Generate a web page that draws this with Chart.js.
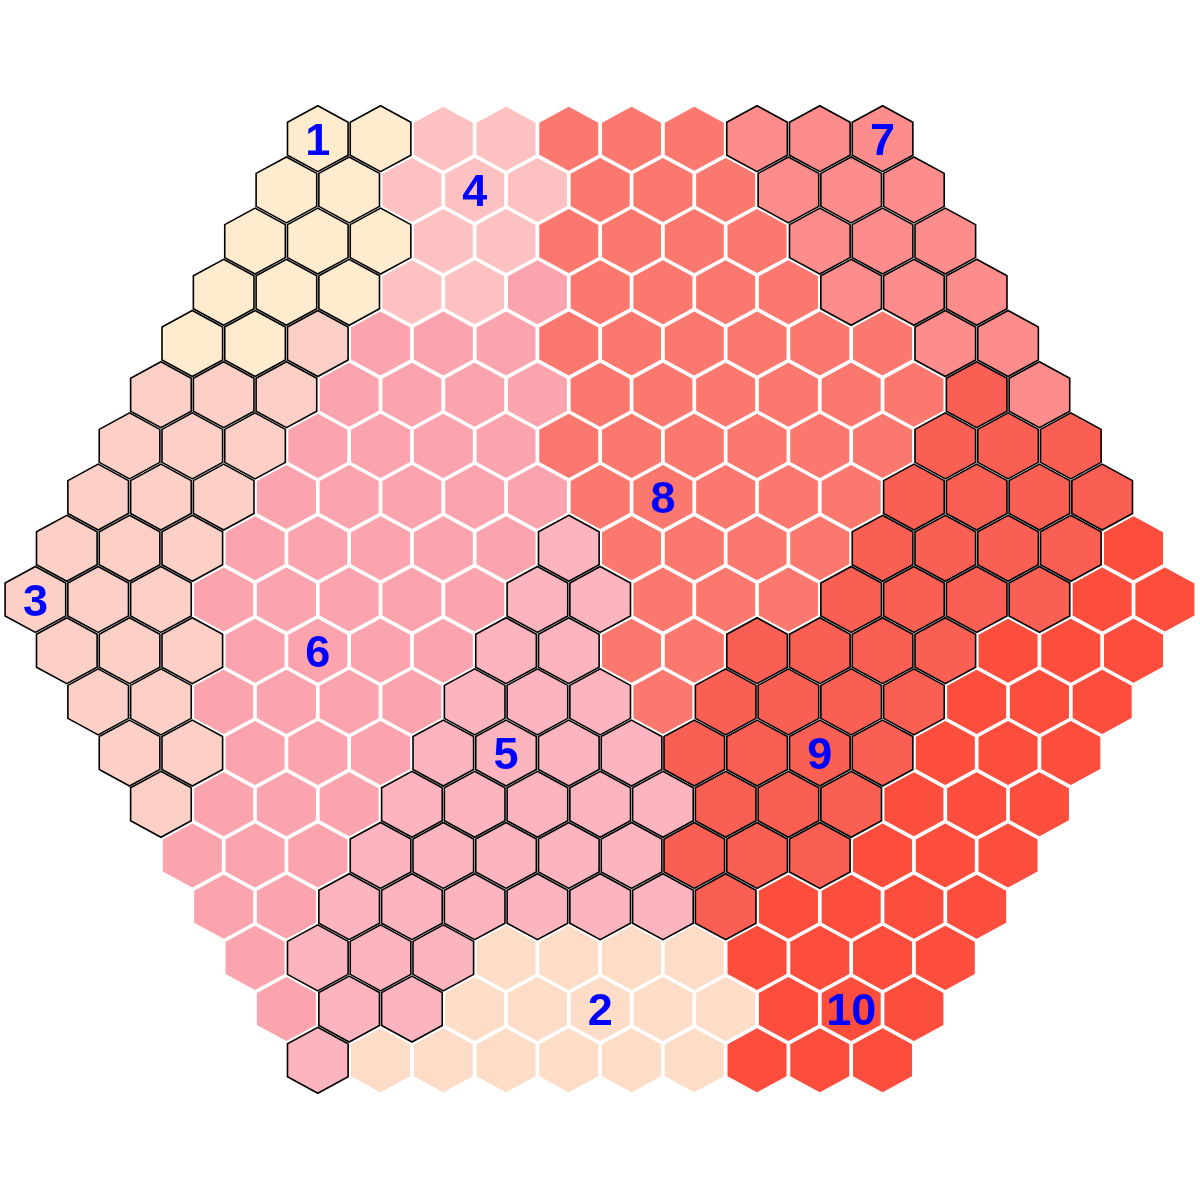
<!DOCTYPE html>
<html>
<head>
<meta charset="utf-8">
<script src="https://cdn.jsdelivr.net/npm/chart.js@4.4.0/dist/chart.umd.min.js"></script>
<style>
html,body{margin:0;padding:0;background:#ffffff;}
#wrap{width:1200px;height:1200px;position:relative;}
</style>
</head>
<body>
<div id="wrap"><canvas id="c"></canvas></div>
<script>
// ---- DATA ----
const clusterIds = [1, 2, 3, 4, 5, 6, 7, 8, 9, 10];
const clusterColors = ['#FFEBCD', '#FDDCC8', '#FCD0C6', '#FEC1C1', '#FCB5BF',
                       '#FCA4AE', '#FD8C8C', '#FB786F', '#FA5F54', '#FD4D3C'];
const clusterBorders = ['#000000', '#FFFFFF', '#000000', '#FFFFFF', '#000000',
                        '#FFFFFF', '#000000', '#FFFFFF', '#000000', '#FFFFFF'];
// cluster of every cell, row by row (top row first), hexagonal map of side 10
const gridRows = [
  [1,1,4,4,8,8,8,7,7,7],
  [1,1,4,4,4,8,8,8,7,7,7],
  [1,1,1,4,4,8,8,8,8,7,7,7],
  [1,1,1,4,4,6,8,8,8,8,7,7,7],
  [1,1,3,6,6,6,8,8,8,8,8,8,7,7],
  [3,3,3,6,6,6,6,8,8,8,8,8,8,9,7],
  [3,3,3,6,6,6,6,8,8,8,8,8,8,9,9,9],
  [3,3,3,6,6,6,6,6,8,8,8,8,8,9,9,9,9],
  [3,3,3,6,6,6,6,6,5,8,8,8,8,9,9,9,9,10],
  [3,3,3,6,6,6,6,6,5,5,8,8,8,9,9,9,9,10,10],
  [3,3,3,6,6,6,6,5,5,8,8,9,9,9,9,10,10,10],
  [3,3,6,6,6,6,5,5,5,8,9,9,9,9,10,10,10],
  [3,3,6,6,6,5,5,5,5,9,9,9,9,10,10,10],
  [3,6,6,6,5,5,5,5,5,9,9,9,10,10,10],
  [6,6,6,5,5,5,5,5,9,9,9,10,10,10],
  [6,6,5,5,5,5,5,5,9,10,10,10,10],
  [6,5,5,5,2,2,2,2,10,10,10,10],
  [6,5,5,2,2,2,2,2,10,10,10],
  [5,2,2,2,2,2,2,10,10,10]
];
// cell (row, index in row) that carries each cluster's number
const labelCells = [[0,0],[17,5],[9,0],[1,3],[12,6],[10,4],[0,9],[7,9],[12,11],[17,9]];

// ---- GEOMETRY (grid units) ----
const nRows = gridRows.length;
function rowStart(r) { return -Math.min(r, nRows - 1 - r) / 2; }
const shrink = 0.966;
const hexOffsets = [[0,-2/3],[0.5,-1/3],[0.5,1/3],[0,2/3],[-0.5,1/3],[-0.5,-1/3],[0,-2/3],[0.5,-1/3]];

const whiteSets = [], blackSets = [];
gridRows.forEach((row, r) => {
  row.forEach((cl, c) => {
    const cx = c + rowStart(r), cy = r;
    const k = clusterIds.indexOf(cl);
    const pts = hexOffsets.map(([dx, dy]) => ({x: cx + dx * shrink, y: cy + dy * shrink}));
    const black = clusterBorders[k] === '#000000';
    const ds = {
      data: pts,
      backgroundColor: clusterColors[k],
      borderColor: clusterBorders[k],
      borderWidth: black ? 1.6 : 1.6,
      borderJoinStyle: 'miter',
      fill: 'shape',
      tension: 0,
      pointRadius: 0,
      pointHoverRadius: 0,
      order: black ? 0 : 1
    };
    (black ? blackSets : whiteSets).push(ds);
  });
});

const labelPlugin = {
  id: 'clusterLabels',
  afterDatasetsDraw(chart) {
    const {ctx} = chart;
    const xs = chart.scales.x, ys = chart.scales.y;
    const size = 45;
    ctx.save();
    ctx.fillStyle = '#0000FF';
    ctx.font = 'bold ' + size + 'px "Liberation Sans", Arial, sans-serif';
    ctx.textAlign = 'center';
    ctx.textBaseline = 'alphabetic';
    clusterIds.forEach((id, i) => {
      const [r, c] = labelCells[i];
      const px = xs.getPixelForValue(c + rowStart(r));
      const py = ys.getPixelForValue(r);
      ctx.fillText(String(id), px, py + 0.358 * size);
    });
    ctx.restore();
  }
};

new Chart(document.getElementById('c'), {
  type: 'line',
  data: {datasets: blackSets.concat(whiteSets)},
  options: {
    responsive: true,
    maintainAspectRatio: false,
    animation: false,
    events: [],
    layout: {padding: 0},
    plugins: {legend: {display: false}, tooltip: {enabled: false}, title: {display: false}},
    scales: {
      x: {type: 'linear', display: false, min: -5.0645, max: 14.059},
      y: {type: 'linear', display: false, reverse: true, min: -2.709, max: 20.729}
    }
  },
  plugins: [labelPlugin]
});
</script>
</body>
</html>
